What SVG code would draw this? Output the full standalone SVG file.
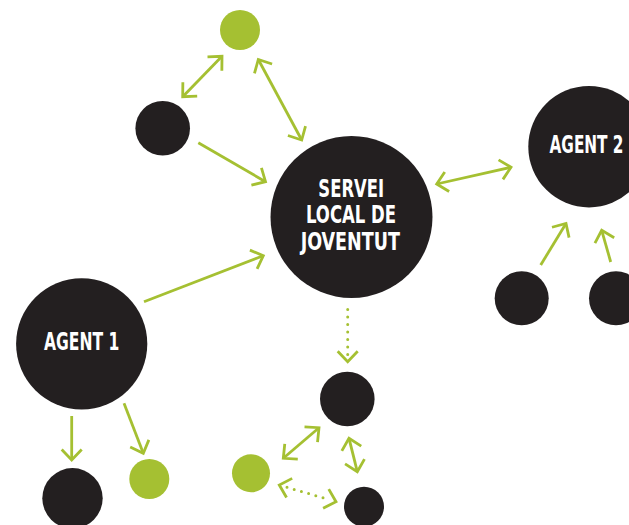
<svg xmlns="http://www.w3.org/2000/svg" width="629" height="525" viewBox="0 0 629 525">
<style>
.dark{fill:#231f20}
.green{fill:#a5c032}
.ln{stroke:#a5c032;stroke-width:2.8;fill:none;stroke-linecap:butt}
.dot{stroke:#a5c032;stroke-width:3;fill:none;stroke-linecap:round;stroke-dasharray:0 7.5}
.lbl{fill:#ffffff;font-family:"Liberation Sans Narrow","DejaVu Sans Condensed","Liberation Sans",sans-serif;font-weight:bold;font-stretch:condensed;text-anchor:middle}
</style>
<defs>
<marker id="ah" markerUnits="userSpaceOnUse" markerWidth="30" markerHeight="30" refX="0" refY="0" viewBox="-15 -15 30 30" orient="auto-start-reverse" overflow="visible">
<path d="M-10.5,-10 L0,0 L-10.5,10" fill="none" stroke="#a5c032" stroke-width="2.8" stroke-linejoin="miter"/>
</marker>
</defs>
<rect width="629" height="525" fill="#ffffff"/>
<g id="connectors">
<line class="ln" x1="182.7" y1="96.7" x2="222" y2="56.3" marker-start="url(#ah)" marker-end="url(#ah)"/>
<line class="ln" x1="258.3" y1="59.5" x2="301.7" y2="140" marker-start="url(#ah)" marker-end="url(#ah)"/>
<line class="ln" x1="198.3" y1="142.7" x2="265.5" y2="181.7" marker-end="url(#ah)"/>
<line class="ln" x1="144" y1="301.7" x2="263.3" y2="255.7" marker-end="url(#ah)"/>
<line class="ln" x1="436.7" y1="184" x2="511" y2="167.3" marker-start="url(#ah)" marker-end="url(#ah)"/>
<line class="ln" x1="540.7" y1="265" x2="566" y2="223.5" marker-end="url(#ah)"/>
<line class="ln" x1="610.7" y1="262" x2="601.7" y2="230.3" marker-end="url(#ah)"/>
<line class="ln" x1="71.7" y1="416" x2="71.7" y2="460" marker-end="url(#ah)"/>
<line class="ln" x1="124" y1="403.3" x2="143.3" y2="453.3" marker-end="url(#ah)"/>
<line class="dot" x1="347.7" y1="309.5" x2="347.7" y2="361.7"/>
<line class="ln" x1="347.7" y1="355" x2="347.7" y2="361.7" stroke-opacity="0" marker-end="url(#ah)"/>
<line class="ln" x1="283.3" y1="458.3" x2="319" y2="427.7" marker-start="url(#ah)" marker-end="url(#ah)"/>
<line class="ln" x1="349" y1="438.3" x2="357.3" y2="471.7" marker-start="url(#ah)" marker-end="url(#ah)"/>
<line class="dot" x1="287" y1="487.3" x2="329" y2="499.5"/>
<line class="ln" x1="279.3" y1="485" x2="336" y2="501.7" stroke-opacity="0" marker-start="url(#ah)" marker-end="url(#ah)"/>
</g>
<g id="node-green-top"><circle class="green" cx="240" cy="30" r="20"/></g>
<g id="node-black-left"><circle class="dark" cx="162.7" cy="128.3" r="27.3"/></g>
<g id="node-servei"><circle class="dark" cx="351.5" cy="217" r="81"/>
<text class="lbl" x="351.2" y="196.7" font-size="24" textLength="65.7" lengthAdjust="spacingAndGlyphs">SERVEI</text>
<text class="lbl" x="351" y="223.3" font-size="24" textLength="90" lengthAdjust="spacingAndGlyphs">LOCAL DE</text>
<text class="lbl" x="350.3" y="250" font-size="24" textLength="99.3" lengthAdjust="spacingAndGlyphs">JOVENTUT</text>
</g>
<g id="node-agent2"><circle class="dark" cx="589" cy="146.7" r="60.7"/>
<text class="lbl" x="586.5" y="153.3" font-size="25" textLength="74" lengthAdjust="spacingAndGlyphs">AGENT 2</text>
</g>
<g id="node-a2-left"><circle class="dark" cx="521.7" cy="298.3" r="27"/></g>
<g id="node-a2-right"><circle class="dark" cx="616" cy="298.3" r="27"/></g>
<g id="node-agent1"><circle class="dark" cx="81.7" cy="343.8" r="65.6"/>
<text class="lbl" x="81.7" y="350" font-size="24" textLength="75.3" lengthAdjust="spacingAndGlyphs">AGENT 1</text>
</g>
<g id="node-a1-black"><circle class="dark" cx="72.5" cy="498.3" r="30.2"/></g>
<g id="node-a1-green"><circle class="green" cx="149.3" cy="479" r="20"/></g>
<g id="node-black-mid"><circle class="dark" cx="347.3" cy="399" r="27.3"/></g>
<g id="node-green-bottom"><circle class="green" cx="251" cy="473.3" r="19"/></g>
<g id="node-black-bottom"><circle class="dark" cx="364" cy="506.7" r="20"/></g>
</svg>
